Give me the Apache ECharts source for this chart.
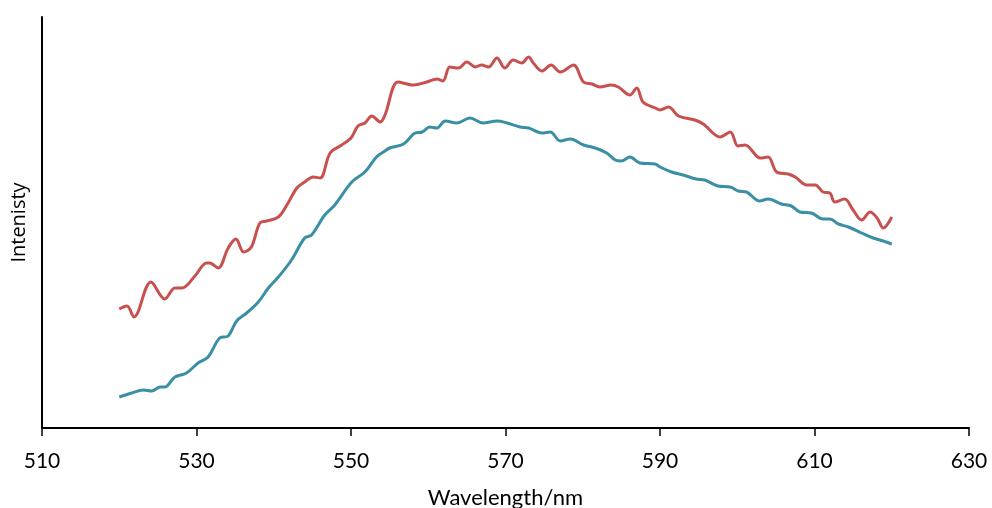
<!DOCTYPE html>
<html>
<head>
<meta charset="utf-8">
<script src="https://cdn.jsdelivr.net/npm/echarts@6/dist/echarts.min.js"></script>
<style>
html,body{margin:0;padding:0;background:#fff;}
#chart{width:992px;height:508px;}
</style>
</head>
<body>
<div id="chart"></div>
<script>
// Wavelength (nm) and intensity (arbitrary units)
var redWavelength = [520.0,521.0,521.9,524.1,525.9,527.2,528.1,529.8,531.3,531.7,532.8,534.1,535.1,536.1,537.1,538.2,539.1,540.6,541.7,543.0,544.0,545.1,546.0,547.3,548.8,550.0,550.9,551.8,552.7,553.8,554.4,556.1,558.1,559.8,561.1,561.9,562.8,563.9,565.0,566.1,566.9,567.8,568.9,569.9,571.0,572.1,573.0,573.6,574.7,575.9,577.1,578.8,580.1,581.2,582.2,583.7,584.6,586.1,587.0,587.8,589.4,590.0,591.1,592.4,594.5,595.6,597.8,599.1,600.1,601.0,603.0,604.0,605.1,606.6,607.5,609.0,610.1,611.1,612.0,612.6,613.9,615.0,616.1,617.2,618.1,618.9,620.0];
var redIntensity = [119,122,111,146,129,140,140,152,165,165,160,180,189,176,181,205,207,211,223,240,246,251,250,275,283,290,302,305,312,306,313,346,343,346,349,347,361,360,366,361,363,361,370,360,368,365,371,365,357,363,356,363,346,344,341,343,341,333,340,326,320,318,321,312,308,304,291,296,282,283,270,271,256,254,251,243,243,236,235,226,229,218,208,216,210,200,211];
var tealWavelength = [520.0,521.6,523.1,524.2,525.3,525.9,527.2,528.7,530.2,531.5,533.0,534.1,535.2,536.5,538.0,539.3,540.6,542.3,544.0,544.9,546.6,547.9,550.1,551.8,553.3,554.4,555.0,556.8,558.3,559.2,560.2,561.1,562.2,563.7,565.4,567.1,568.9,570.2,571.9,573.0,574.7,575.8,577.1,578.4,580.1,581.6,583.1,584.2,585.0,586.1,587.4,589.4,590.0,591.5,593.0,594.7,595.8,597.5,599.1,600.1,601.2,602.9,604.0,605.7,607.0,608.1,609.6,611.1,612.0,613.1,614.4,616.1,617.6,618.9,620.0];
var tealIntensity = [31,35,38,37,41,41,51,55,65,71,90,92,107,115,126,140,151,168,190,193,213,223,246,256,271,277,280,284,295,296,301,300,307,305,310,305,307,305,301,300,295,296,287,289,283,280,275,268,267,271,265,264,261,256,253,249,248,242,241,237,236,227,229,224,222,216,215,209,209,204,201,195,190,187,184];
var xTicks = [510,530,550,570,590,610,630];

function pairs(xs, ys){ return xs.map(function(x,i){ return [x, ys[i]]; }); }

var chart = echarts.init(document.getElementById('chart'), null, {renderer:'canvas'});
chart.setOption({
  animation:false,
  backgroundColor:'#ffffff',
  grid:{left:42, right:23, top:17, bottom:80, containLabel:false, outerBoundsMode:'none'},
  xAxis:{
    type:'value', min:xTicks[0], max:xTicks[xTicks.length-1], interval:20,
    name:'Wavelength/nm', nameLocation:'middle', nameGap:59,
    nameTextStyle:{fontFamily:'Lato', fontSize:22, color:'#000'},
    axisLine:{show:true, lineStyle:{color:'#000', width:2}},
    axisTick:{show:true, length:8, lineStyle:{color:'#000', width:1.5}},
    axisLabel:{fontFamily:'Lato', fontSize:21, color:'#000', margin:23},
    splitLine:{show:false}
  },
  yAxis:{
    type:'value', min:0, max:411,
    name:'Intenisty', nameLocation:'middle', nameGap:13,
    nameTextStyle:{fontFamily:'Open Sans', fontSize:20, color:'#000'},
    axisLine:{show:true, lineStyle:{color:'#000', width:2}},
    axisTick:{show:false}, axisLabel:{show:false}, splitLine:{show:false}
  },
  series:[
    {type:'line', data:pairs(redWavelength, redIntensity), smooth:0.35, showSymbol:false,
     lineStyle:{color:'#c8504e', width:3}},
    {type:'line', data:pairs(tealWavelength, tealIntensity), smooth:0.35, showSymbol:false,
     lineStyle:{color:'#3a8fa4', width:3}}
  ]
});
</script>
</body>
</html>
